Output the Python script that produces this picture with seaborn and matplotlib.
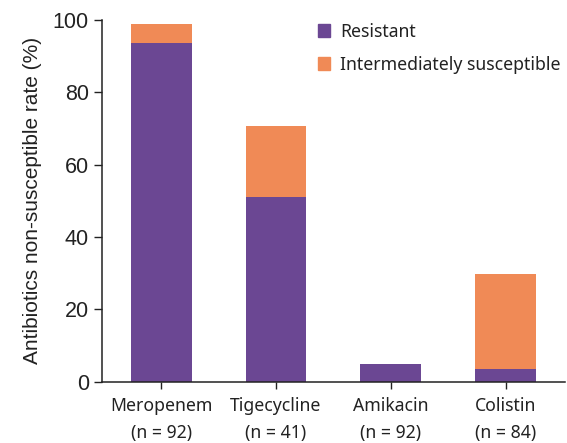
import matplotlib
matplotlib.use("Agg")
import numpy as np
import pandas as pd
import matplotlib.pyplot as plt
import seaborn as sns
from matplotlib.patches import Patch

sns.set_theme(style="ticks")
plt.rcParams["font.family"] = ["Liberation Sans", "DejaVu Sans"]

# ── Data ────────────────────────────────────────────────────────────────
drugs      = ["Meropenem", "Tigecycline", "Amikacin", "Colistin"]
n_isolates = [92, 41, 92, 84]
resistant  = [93.5, 51.2, 5.0, 3.6]
intermed   = [5.4, 19.5, 0.0, 26.2]

PURPLE = "#6B4793"
ORANGE = "#F08A56"

labels = [f"{d}\n(n = {n})" for d, n in zip(drugs, n_isolates)]
df = pd.DataFrame({"drug": labels,
                   "resistant": resistant,
                   "total": np.array(resistant) + np.array(intermed)})

fig = plt.figure(figsize=(5.67, 4.43), dpi=100)
ax = fig.add_axes([0.180, 0.138, 0.816, 0.817])

sns.barplot(data=df, x="drug", y="total", color=ORANGE, width=0.53,
            saturation=1, linewidth=0, ax=ax)
sns.barplot(data=df, x="drug", y="resistant", color=PURPLE, width=0.53,
            saturation=1, linewidth=0, ax=ax)

ax.set_ylim(0, 100)
ax.set_xlim(-0.515, 3.515)
ax.set_yticks([0, 20, 40, 60, 80, 100])
ax.set_xlabel("")
ax.set_ylabel("Antibiotics non-susceptible rate (%)", fontsize=15, labelpad=8,
              color="#222222")
ax.tick_params(axis="y", labelsize=15.5, length=6, width=1, color="#222222",
               labelcolor="#222222")
ax.tick_params(axis="x", labelsize=12.7, length=5, width=1, color="#222222", pad=6)
for lbl in ax.get_xticklabels():
    lbl.set_family(["Noto Sans", "DejaVu Sans"])
    lbl.set_color("#222222")
    lbl.set_linespacing(1.65)
sns.despine(ax=ax)
for s in ["left", "bottom"]:
    ax.spines[s].set_linewidth(1.1)
    ax.spines[s].set_color("#222222")

handles = [Patch(color=PURPLE, label="Resistant"),
           Patch(color=ORANGE, label="Intermediately susceptible")]
leg = ax.legend(handles=handles, loc="upper right", bbox_to_anchor=(1.025, 1.036),
                frameon=False, handlelength=0.7, handleheight=0.7,
                handletextpad=0.55, labelspacing=0.85,
                prop={"family": ["Noto Sans", "DejaVu Sans"], "size": 12.7})
for t in leg.get_texts():
    t.set_color("#222222")

fig.savefig("out.png", dpi=100)
plt.close(fig)
